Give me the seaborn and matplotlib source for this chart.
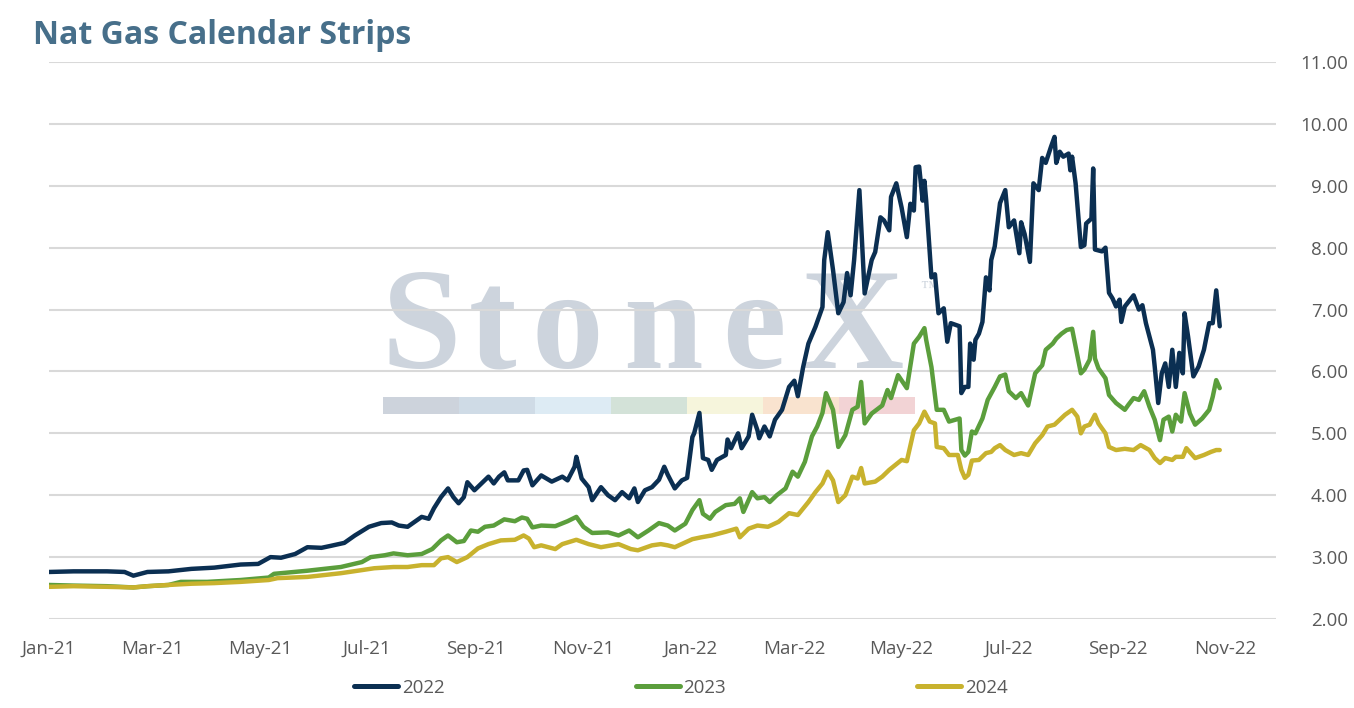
import pandas as pd
import seaborn as sns
import matplotlib.pyplot as plt
import matplotlib.dates as mdates
from matplotlib.lines import Line2D
from matplotlib.patches import Rectangle

# Settlement strips, days counted from 2021-01-01
days_2022 = [0, 14, 33, 43, 48, 56, 68, 81, 94, 109, 119, 126, 132, 140, 147, 155, 160, 168, 174,
             182, 189, 195, 199, 204, 212, 216, 219, 223, 227, 230, 233, 236, 238, 242, 246, 250,
             253, 256, 259, 261, 267, 270, 272, 275, 280, 286, 292, 295, 299, 300, 303, 307, 309,
             314, 318, 322, 326, 330, 333, 335, 339, 343, 347, 350, 352, 356, 360, 363, 366, 367,
             370, 372, 375, 377, 380, 385, 386, 388, 392, 394, 398, 400, 403, 404, 407, 410, 413,
             417, 421, 424, 426, 429, 432, 436, 440, 441, 443, 446, 449, 452, 454, 456, 458, 461,
             464, 468, 470, 473, 475, 478, 479, 482, 485, 488, 490, 492, 493, 495, 497, 498, 499,
             502, 504, 506, 509, 511, 513, 518, 519, 521, 523, 524, 526, 527, 529, 531, 533, 535,
             536, 538, 541, 544, 546, 549, 552, 553, 555, 558, 560, 563, 565, 567, 570, 572, 573,
             575, 577, 580, 581, 582, 584, 587, 589, 590, 593, 594, 595, 599, 601, 603, 605, 607,
             609, 610, 612, 617, 620, 622, 624, 628, 629, 631, 633, 635, 637, 639, 641, 643, 645,
             646, 648, 651, 654, 657, 660, 662, 664, 666]
strip_2022 = [2.76, 2.77, 2.77, 2.76, 2.70, 2.76, 2.77, 2.81, 2.83, 2.88, 2.89, 3.00, 2.99, 3.05,
              3.16, 3.15, 3.18, 3.23, 3.35, 3.49, 3.55, 3.56, 3.51, 3.49, 3.65, 3.62, 3.79, 3.97,
              4.11, 3.97, 3.87, 3.97, 4.21, 4.08, 4.19, 4.30, 4.19, 4.30, 4.37, 4.24, 4.24, 4.40,
              4.41, 4.16, 4.32, 4.22, 4.30, 4.24, 4.46, 4.62, 4.27, 4.13, 3.92, 4.13, 4.00, 3.92,
              4.05, 3.95, 4.11, 3.89, 4.08, 4.13, 4.25, 4.46, 4.33, 4.11, 4.24, 4.28, 4.94, 5.00,
              5.33, 4.60, 4.57, 4.41, 4.57, 4.65, 4.90, 4.76, 5.00, 4.76, 4.95, 5.30, 5.05, 4.92,
              5.11, 4.95, 5.22, 5.38, 5.75, 5.85, 5.60, 6.07, 6.45, 6.72, 7.04, 7.80, 8.25, 7.64,
              6.94, 7.12, 7.59, 7.23, 7.80, 8.93, 7.26, 7.80, 7.93, 8.49, 8.44, 8.28, 8.82, 9.04,
              8.65, 8.17, 8.71, 8.60, 9.30, 9.31, 8.76, 9.08, 8.76, 7.52, 7.57, 6.94, 7.02, 6.48,
              6.78, 6.73, 5.65, 5.75, 5.75, 6.45, 6.19, 6.51, 6.61, 6.80, 7.52, 7.31, 7.80, 8.02,
              8.72, 8.93, 8.33, 8.44, 7.91, 8.41, 8.22, 7.77, 9.04, 8.93, 9.45, 9.37, 9.63, 9.79,
              9.37, 9.55, 9.47, 9.52, 9.25, 9.47, 9.04, 8.01, 8.04, 8.39, 8.47, 9.28, 7.97, 7.94,
              8.00, 7.27, 7.18, 7.05, 7.16, 6.80, 7.05, 7.23, 7.00, 7.07, 6.78, 6.35, 6.08, 5.49,
              5.97, 6.13, 5.75, 6.35, 5.75, 6.30, 5.97, 6.94, 6.56, 5.92, 6.08, 6.35, 6.78, 6.78,
              7.31, 6.73]

days_2023 = [0, 14, 33, 48, 56, 68, 75, 90, 109, 125, 128, 147, 166, 178, 183, 191, 196, 204, 212,
             218, 223, 227, 232, 236, 240, 244, 248, 253, 259, 265, 269, 272, 275, 280, 288, 295,
             300, 304, 309, 318, 324, 330, 335, 341, 347, 352, 356, 362, 366, 370, 372, 376, 379,
             385, 390, 393, 395, 400, 403, 407, 410, 414, 419, 423, 426, 430, 434, 437, 440, 442,
             446, 449, 453, 457, 460, 462, 464, 468, 474, 477, 479, 483, 488, 492, 495, 498, 499,
             502, 505, 509, 512, 518, 519, 521, 523, 525, 527, 531, 534, 538, 541, 544, 546, 550,
             553, 557, 561, 565, 567, 571, 573, 576, 579, 582, 584, 587, 589, 592, 594, 595, 597,
             601, 603, 607, 612, 614, 617, 620, 623, 626, 629, 632, 634, 637, 639, 641, 644, 646,
             649, 652, 656, 660, 662, 664, 666]
strip_2023 = [2.55, 2.54, 2.53, 2.51, 2.53, 2.55, 2.60, 2.60, 2.63, 2.67, 2.73, 2.78, 2.84, 2.92,
              3.00, 3.03, 3.06, 3.03, 3.05, 3.13, 3.27, 3.35, 3.24, 3.26, 3.43, 3.41, 3.49, 3.51,
              3.61, 3.58, 3.64, 3.62, 3.48, 3.51, 3.50, 3.58, 3.65, 3.49, 3.39, 3.40, 3.35, 3.43,
              3.32, 3.43, 3.55, 3.51, 3.43, 3.54, 3.76, 3.92, 3.70, 3.62, 3.73, 3.84, 3.86, 3.95,
              3.73, 4.05, 3.95, 3.97, 3.89, 4.00, 4.11, 4.38, 4.30, 4.54, 4.95, 5.11, 5.33, 5.65,
              5.38, 4.78, 4.97, 5.38, 5.43, 5.83, 5.16, 5.32, 5.45, 5.70, 5.57, 5.94, 5.73, 6.45,
              6.56, 6.70, 6.51, 6.07, 5.38, 5.38, 5.19, 5.24, 4.73, 4.64, 4.70, 5.03, 5.00, 5.24,
              5.54, 5.75, 5.92, 5.95, 5.68, 5.57, 5.65, 5.45, 5.97, 6.10, 6.35, 6.45, 6.53, 6.61,
              6.67, 6.69, 6.40, 5.97, 6.03, 6.19, 6.64, 6.21, 6.05, 5.89, 5.62, 5.49, 5.38, 5.46,
              5.57, 5.54, 5.68, 5.43, 5.22, 4.89, 5.22, 5.27, 5.03, 5.30, 5.19, 5.65, 5.32, 5.14,
              5.24, 5.38, 5.59, 5.86, 5.73]

days_2024 = [0, 14, 33, 48, 56, 68, 81, 94, 109, 125, 130, 147, 166, 178, 185, 196, 204, 212, 219,
             223, 227, 232, 238, 244, 250, 257, 265, 270, 273, 276, 280, 288, 292, 300, 307, 314,
             324, 331, 335, 343, 348, 352, 356, 366, 371, 377, 385, 391, 393, 398, 403, 409, 415,
             421, 426, 432, 436, 440, 443, 446, 449, 453, 457, 460, 462, 464, 470, 474, 478, 485,
             488, 492, 495, 498, 501, 504, 505, 509, 512, 517, 519, 521, 523, 525, 529, 533, 536,
             538, 541, 544, 549, 553, 557, 561, 565, 568, 572, 575, 578, 582, 585, 587, 589, 592,
             595, 597, 601, 603, 607, 612, 617, 621, 626, 629, 632, 635, 639, 641, 645, 647, 652,
             657, 661, 664, 666]
strip_2024 = [2.52, 2.53, 2.52, 2.51, 2.53, 2.55, 2.57, 2.58, 2.60, 2.63, 2.66, 2.68, 2.74, 2.79,
              2.82, 2.84, 2.84, 2.87, 2.87, 2.98, 3.00, 2.92, 3.00, 3.14, 3.21, 3.27, 3.28, 3.35,
              3.30, 3.16, 3.19, 3.13, 3.21, 3.28, 3.21, 3.16, 3.21, 3.13, 3.11, 3.19, 3.21, 3.19,
              3.16, 3.29, 3.32, 3.35, 3.41, 3.46, 3.32, 3.46, 3.51, 3.49, 3.57, 3.71, 3.68, 3.89,
              4.05, 4.19, 4.38, 4.24, 3.89, 4.00, 4.30, 4.27, 4.44, 4.19, 4.22, 4.30, 4.41, 4.57,
              4.55, 5.05, 5.16, 5.35, 5.19, 5.16, 4.78, 4.76, 4.65, 4.65, 4.41, 4.28, 4.33, 4.56,
              4.57, 4.68, 4.70, 4.76, 4.81, 4.73, 4.65, 4.68, 4.65, 4.84, 4.97, 5.11, 5.14, 5.22,
              5.30, 5.38, 5.27, 5.00, 5.11, 5.14, 5.30, 5.16, 5.00, 4.78, 4.73, 4.75, 4.73, 4.81,
              4.73, 4.60, 4.52, 4.60, 4.57, 4.62, 4.62, 4.76, 4.60, 4.65, 4.70, 4.73, 4.73]

series_names = ['2022', '2023', '2024']
series_colors = ['#0b2f52', '#5b9e3c', '#c8b22e']
y_ticks = [2, 3, 4, 5, 6, 7, 8, 9, 10, 11]

start = pd.Timestamp('2021-01-01')
frames = []
for name, d, v in zip(series_names, [days_2022, days_2023, days_2024],
                      [strip_2022, strip_2023, strip_2024]):
    frames.append(pd.DataFrame({'date': start + pd.to_timedelta(d, unit='D'),
                                'price': v, 'strip': name}))
df = pd.concat(frames, ignore_index=True)

sns.set_theme(style='white')
plt.rcParams['font.family'] = ['Open Sans', 'DejaVu Sans']

W, H = 1354, 708
fig = plt.figure(figsize=(W / 100, H / 100), dpi=100)
ax = fig.add_axes([49 / W, 1 - 619 / H, (1276 - 49) / W, (619 - 62) / H])

# StoneX watermark behind the data
wm_color = '#cdd4dd'
for letter, cx in zip('StoneX', [421, 493, 567, 663, 754, 852]):
    ax.text(cx / W, 1 - 368 / H, letter, transform=fig.transFigure, ha='center', va='baseline',
            family='Liberation Serif', fontweight='bold', fontsize=103, color=wm_color,
            zorder=0.2)
ax.text(920 / W, 1 - 293 / H, '\u2122', transform=fig.transFigure, ha='left', va='baseline',
        family='Liberation Serif', fontsize=13, color=wm_color, zorder=0.2)
bar_colors = ['#cdd3dc', '#cfdbe6', '#ddebf4', '#d3e2d8', '#f6f5dc', '#f9e3cf', '#f2d3d5']
for i, c in enumerate(bar_colors):
    ax.add_patch(Rectangle(((383 + i * 76) / W, 1 - 414 / H), 76 / W, 17 / H,
                           transform=fig.transFigure, facecolor=c, edgecolor='none',
                           zorder=0.2, clip_on=False))

sns.lineplot(data=df, x='date', y='price', hue='strip', hue_order=series_names,
             palette=dict(zip(series_names, series_colors)), estimator=None,
             linewidth=3.2, legend=False, ax=ax)

ax.set_ylim(2, 11)
ax.set_xlim(start, pd.Timestamp('2022-11-30'))
ax.yaxis.tick_right()
ax.set_yticks(y_ticks, [f'{t:.2f}' for t in y_ticks], ha='right')
ax.tick_params(axis='y', length=0, pad=52, labelsize=13.5, labelcolor='#595959')
ax.xaxis.set_major_locator(mdates.MonthLocator(bymonth=[1, 3, 5, 7, 9, 11]))
ax.xaxis.set_major_formatter(mdates.DateFormatter('%b-%y'))
ax.tick_params(axis='x', length=0, pad=15, labelsize=13.5, labelcolor='#595959')
ax.set_xlabel('')
ax.set_ylabel('')

ax.set_axisbelow(True)
ax.grid(axis='y', color='#d9d9d9', linewidth=1.5)
ax.grid(axis='x', visible=False)
for s in ax.spines.values():
    s.set_visible(False)

fig.text(33 / W, 1 - 35 / H, 'Nat Gas Calendar Strips', fontsize=23, fontweight='bold',
         color='#476f8a', ha='left', va='center')

handles = [Line2D([0], [0], color=c, linewidth=3.6) for c in series_colors]
fig.legend(handles, series_names, loc='center', bbox_to_anchor=(681 / W, 1 - 688 / H), ncol=3,
           frameon=False, fontsize=13.5, handlelength=2.35, handletextpad=0.2,
           columnspacing=10.2, labelcolor='#595959')

fig.savefig('out.png', dpi=100)
